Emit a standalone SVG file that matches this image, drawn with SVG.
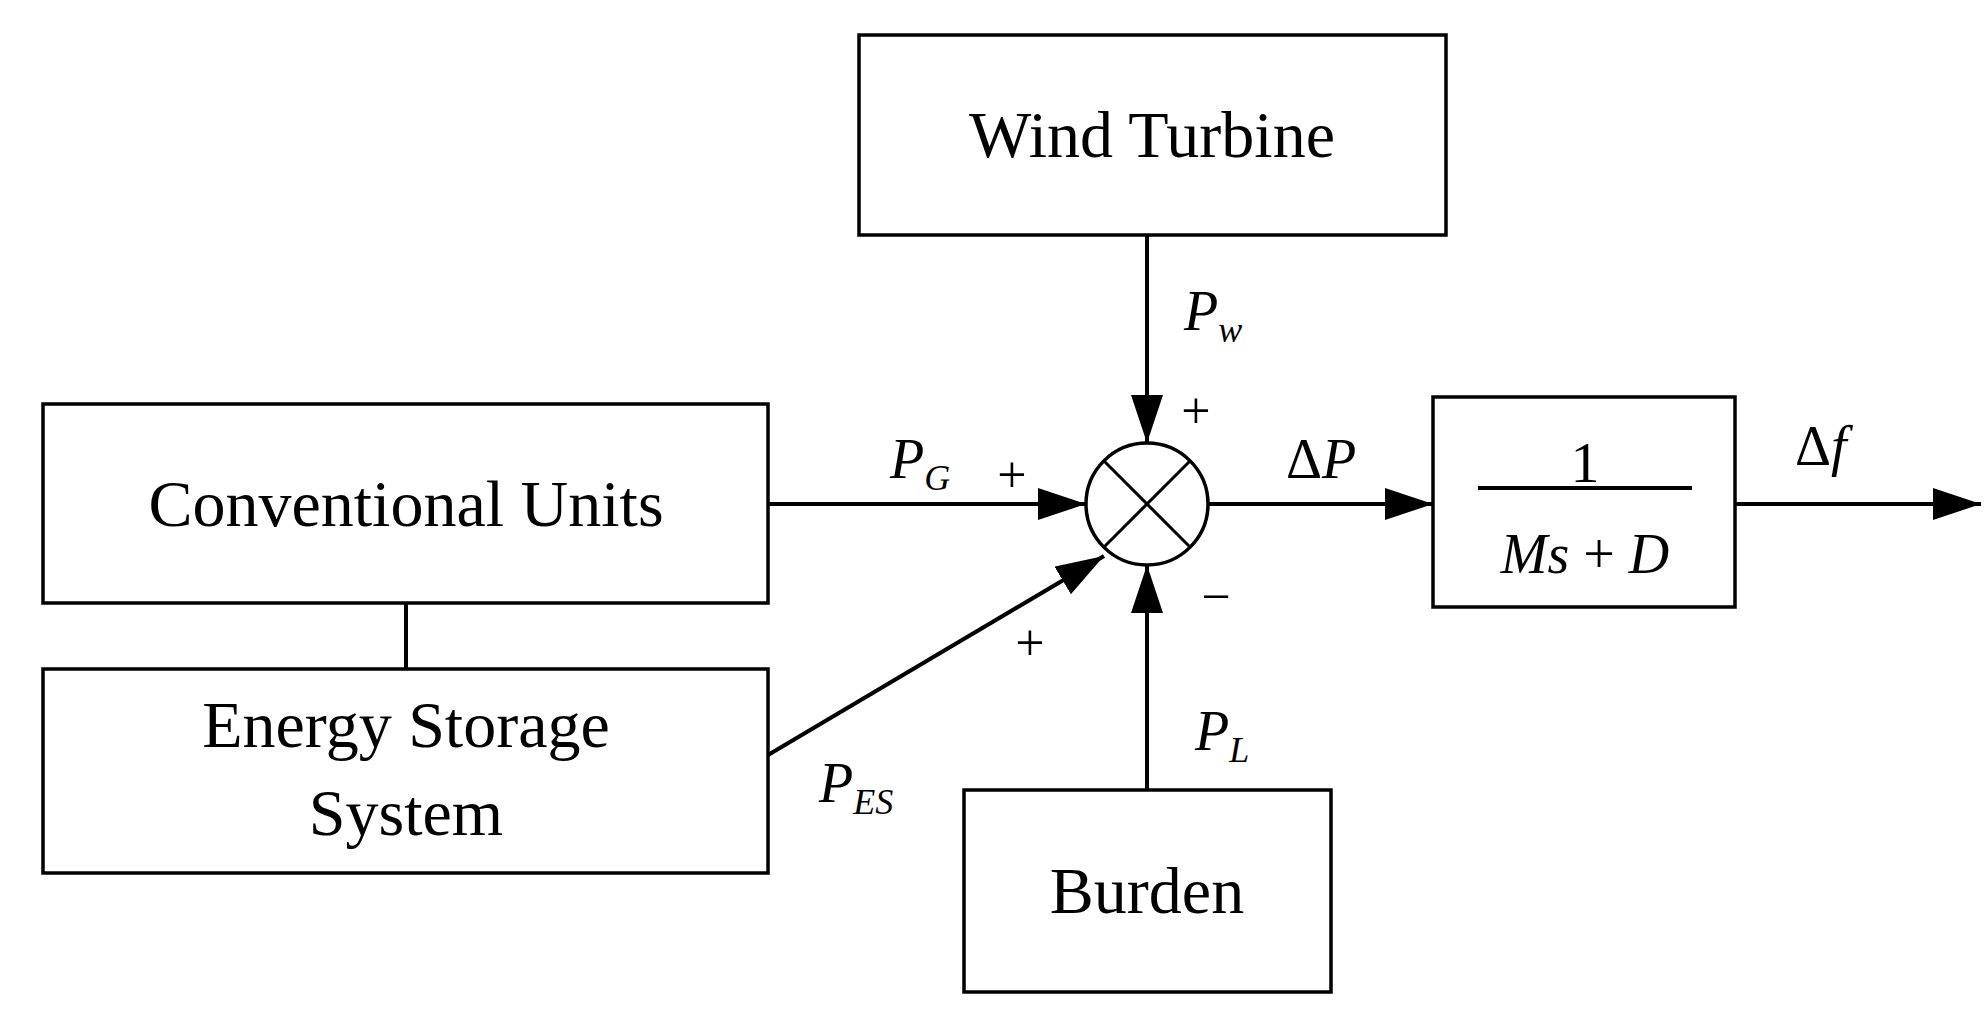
<svg xmlns="http://www.w3.org/2000/svg" width="1986" height="1017" viewBox="0 0 1986 1017">
<style>
rect,circle{fill:#fff;stroke:#000;stroke-width:3.5}
line,polyline{stroke:#000;stroke-width:4;fill:none}
text{font-family:"Liberation Serif",serif;fill:#000}
.b{font-size:66px;text-anchor:middle}
.i{font-style:italic;font-size:56px}
.s{font-size:36px}
.p{font-size:52px}
</style>
<defs><marker id="a" markerWidth="12" markerHeight="8" refX="12" refY="4" orient="auto" markerUnits="strokeWidth"><path d="M0,0L12,4L0,8z" fill="#000"/></marker></defs>
<rect width="1986" height="1017" style="fill:#fff;stroke:none"/>
<g id="connectors">
<line x1="1147" y1="235" x2="1147" y2="443" marker-end="url(#a)"/>
<line x1="768" y1="504" x2="1086" y2="504" marker-end="url(#a)"/>
<line x1="768" y1="755" x2="1104" y2="556" marker-end="url(#a)"/>
<line x1="1147" y1="790" x2="1147" y2="565" marker-end="url(#a)"/>
<line x1="1208" y1="504" x2="1433" y2="504" marker-end="url(#a)"/>
<line x1="1735" y1="504" x2="1981" y2="504" marker-end="url(#a)"/>
<line x1="406" y1="603" x2="406" y2="669"/>
</g>
<g id="wind"><rect x="859" y="35" width="587" height="200"/><text class="b" x="1152" y="157">Wind Turbine</text></g>
<g id="conv"><rect x="43" y="404" width="725" height="199"/><text class="b" x="406" y="526">Conventional Units</text></g>
<g id="ess"><rect x="43" y="669" width="725" height="204"/><text class="b" x="406" y="747">Energy Storage</text><text class="b" x="406" y="835">System</text></g>
<g id="burden"><rect x="964" y="790" width="367" height="202"/><text class="b" x="1147" y="913">Burden</text></g>
<g id="sum"><circle cx="1147" cy="504" r="61"/><line x1="1104" y1="461" x2="1190" y2="547" style="stroke-width:3"/><line x1="1190" y1="461" x2="1104" y2="547" style="stroke-width:3"/></g>
<g id="tf"><rect x="1433" y="397" width="302" height="210"/><text x="1585" y="482" text-anchor="middle" style="font-size:58px">1</text><line x1="1478" y1="488" x2="1692" y2="488"/><text x="1585" y="573" text-anchor="middle" style="font-size:56px"><tspan font-style="italic">Ms</tspan> + <tspan font-style="italic">D</tspan></text></g>
<g id="labels">
<text class="i" x="1184" y="330">P<tspan class="s" dy="12">w</tspan></text>
<text class="i" x="890" y="478">P<tspan class="s" dy="12">G</tspan></text>
<text class="i" x="1195" y="750">P<tspan class="s" dy="12">L</tspan></text>
<text class="i" x="819" y="802">P<tspan class="s" dy="12">ES</tspan></text>
<text x="1286" y="478" style="font-size:56px">Δ<tspan font-style="italic">P</tspan></text>
<text x="1795" y="465" style="font-size:56px">Δ<tspan font-style="italic">f</tspan></text>
<text class="p" x="1196" y="428" text-anchor="middle">+</text>
<text class="p" x="1012" y="492" text-anchor="middle">+</text>
<text class="p" x="1030" y="660" text-anchor="middle">+</text>
<text class="p" x="1216" y="614" text-anchor="middle">−</text>
</g>
</svg>
